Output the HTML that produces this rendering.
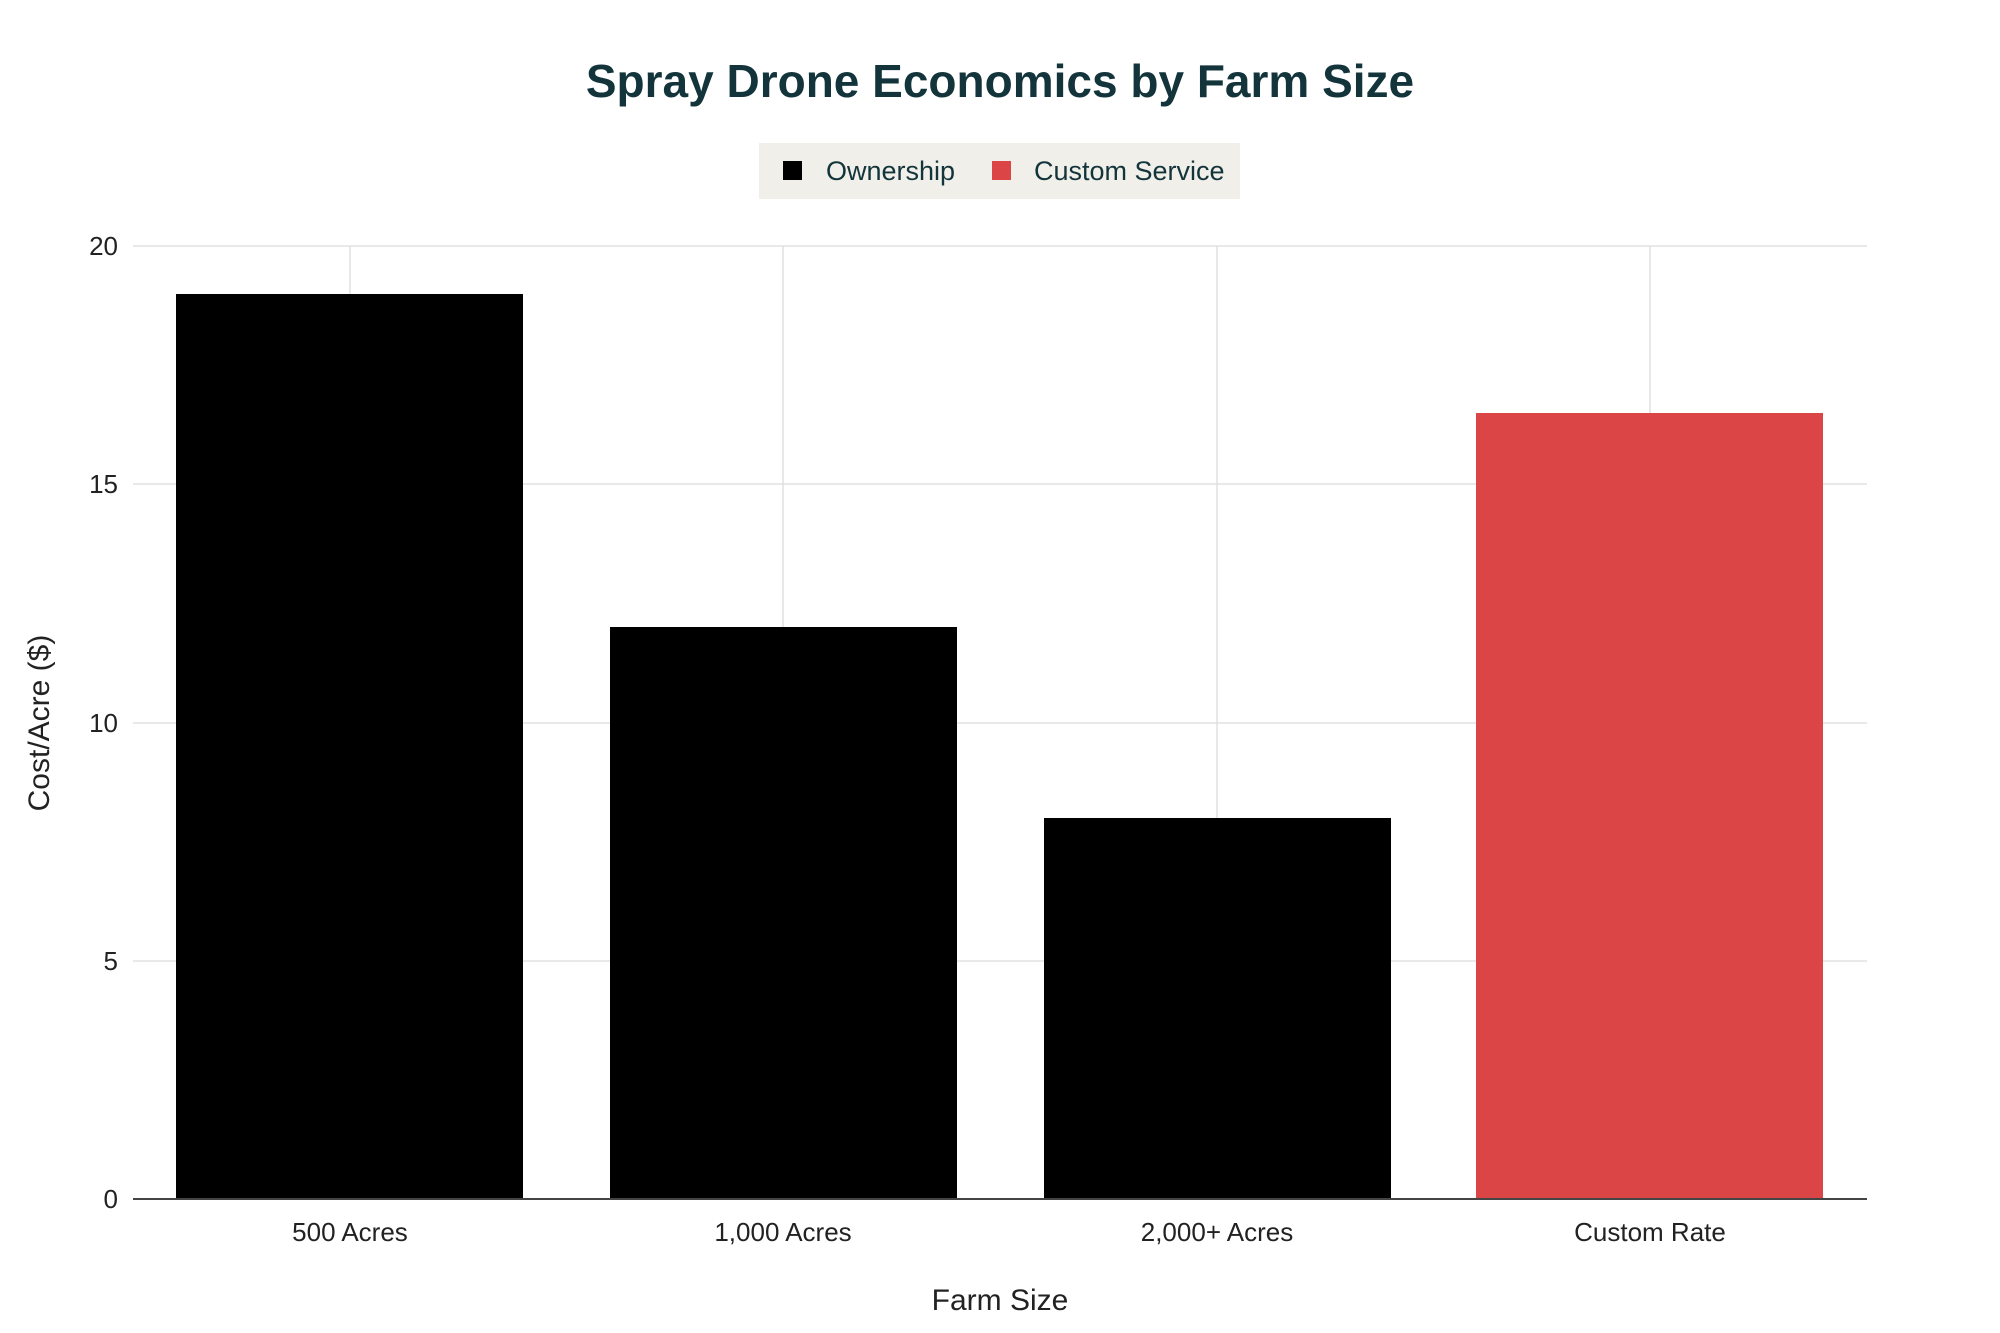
<!DOCTYPE html>
<html><head><meta charset="utf-8"><style>
body{margin:0;background:#fff;}
svg{display:block;font-family:"Liberation Sans",sans-serif;}
</style></head><body>
<svg width="2000" height="1333" viewBox="0 0 2000 1333">
<rect width="2000" height="1333" fill="#fff"/>
<text x="1000" y="97" text-anchor="middle" font-size="46" font-weight="bold" fill="#13343b">Spray Drone Economics by Farm Size</text>
<rect x="759" y="143" width="481" height="56" fill="#f0efe9"/>
<rect x="783" y="161" width="19" height="19" fill="#000"/>
<text x="826" y="180" font-size="27" fill="#13343b">Ownership</text>
<rect x="992" y="161" width="19" height="19" fill="#db4545"/>
<text x="1034" y="180" font-size="27" fill="#13343b">Custom Service</text>
<g stroke="#dcdcdc" stroke-width="1.3">
<line x1="133" x2="1867" y1="246" y2="246"/>
<line x1="133" x2="1867" y1="484" y2="484"/>
<line x1="133" x2="1867" y1="723" y2="723"/>
<line x1="133" x2="1867" y1="961" y2="961"/>
<line x1="350" x2="350" y1="246" y2="1199"/>
<line x1="783" x2="783" y1="246" y2="1199"/>
<line x1="1217" x2="1217" y1="246" y2="1199"/>
<line x1="1650" x2="1650" y1="246" y2="1199"/>
</g>
<rect x="176" y="294" width="347" height="905" fill="#000"/>
<rect x="610" y="627" width="347" height="572" fill="#000"/>
<rect x="1044" y="818" width="347" height="381" fill="#000"/>
<rect x="1476" y="413" width="347" height="786" fill="#db4545"/>
<line x1="133" x2="1867" y1="1199" y2="1199" stroke="#444" stroke-width="2"/>
<g font-size="26" fill="#222" text-anchor="end">
<text x="118" y="255">20</text>
<text x="118" y="493">15</text>
<text x="118" y="732">10</text>
<text x="118" y="970">5</text>
<text x="118" y="1208">0</text>
</g>
<g font-size="26" fill="#222" text-anchor="middle">
<text x="350" y="1241">500 Acres</text>
<text x="783" y="1241">1,000 Acres</text>
<text x="1217" y="1241">2,000+ Acres</text>
<text x="1650" y="1241">Custom Rate</text>
</g>
<text x="1000" y="1310" font-size="30" fill="#222" text-anchor="middle">Farm Size</text>
<text transform="translate(49,723) rotate(-90)" font-size="30" fill="#222" text-anchor="middle">Cost/Acre ($)</text>
</svg>
</body></html>
